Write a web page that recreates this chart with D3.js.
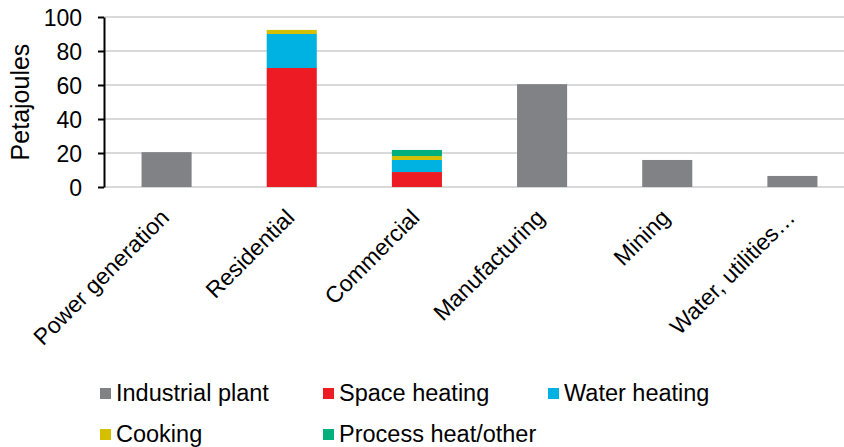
<!DOCTYPE html>
<html>
<head>
<meta charset="utf-8">
<script src="https://cdn.jsdelivr.net/npm/d3@7"></script>
<style>
	body { margin: 0; background: #fff; }
	svg { display: block; font-family: 'Liberation Sans', Arial, sans-serif; }
</style>
</head>
<body>
<div id="chart"></div>
<script>

// chart data
var categories = ['Power generation', 'Residential', 'Commercial', 'Manufacturing', 'Mining', 'Water, utilities\u2026']
	, industrialPlant = [20.5, 0, 0, 60.5, 15.9, 6.5]
	, spaceHeating = [0, 70, 8.8, 0, 0, 0]
	, waterHeating = [0, 20, 7.1, 0, 0, 0]
	, cooking = [0, 2.4, 2.3, 0, 0, 0]
	, processHeat = [0, 0, 3.6, 0, 0, 0]
	, seriesNames = ['Industrial plant', 'Space heating', 'Water heating', 'Cooking', 'Process heat/other']
	, yTicks = [0, 20, 40, 60, 80, 100]

var colors = ['#818285', '#ed1c24', '#00b2e2', '#d4c000', '#00b07c']

var width = 844
	, height = 447
	, margin = {top: 17, left: 104, bottom: 260, right: -11}

var svg = d3.select('#chart').append('svg')
	.attr('width', width)
	.attr('height', height)

// build one row per category for the stack
var rows = categories.map(function(c, i) {
	return {
		name: c
		, 'Industrial plant': industrialPlant[i]
		, 'Space heating': spaceHeating[i]
		, 'Water heating': waterHeating[i]
		, 'Cooking': cooking[i]
		, 'Process heat/other': processHeat[i]
	}
})

var stacked = d3.stack().keys(seriesNames)(rows)

var x = d3.scaleBand()
	.domain(categories)
	.range([margin.left, width - margin.right])
	.paddingInner(0.6)
	.paddingOuter(0.3)

var y = d3.scaleLinear()
	.domain([0, 100])
	.range([height - margin.bottom, margin.top])

// gridlines
svg.append('g').selectAll('line').data(yTicks)
  .enter()
	.append('line')
	.attr('x1', margin.left)
	.attr('x2', width - margin.right)
	.attr('y1', function(d) { return y(d) })
	.attr('y2', function(d) { return y(d) })
	.style('stroke', '#d9d9d9')
	.style('stroke-width', 2)

// bars
svg.append('g').selectAll('g').data(stacked)
  .enter()
	.append('g')
	.style('fill', function(d, i) { return colors[i] })
  .selectAll('rect').data(function(d) { return d })
  .enter()
	.append('rect')
	.attr('x', function(d) { return x(d.data.name) })
	.attr('width', x.bandwidth())
	.attr('y', function(d) { return y(d[1]) })
	.attr('height', function(d) { return y(d[0]) - y(d[1]) })

// y axis
var yAxis = svg.append('g')
	.attr('transform', 'translate(' + margin.left + ',0)')
	.call(d3.axisLeft(y).tickValues(yTicks).tickSize(6).tickSizeOuter(0).tickPadding(16))

yAxis.select('.domain').style('stroke', '#000').style('stroke-width', 2)
yAxis.selectAll('.tick line').style('stroke', '#000').style('stroke-width', 2)
yAxis.selectAll('.tick text')
	.style('font-size', '23px')
	.style('fill', '#000')
	.attr('dy', '0.36em')

svg.append('text')
	.attr('transform', 'translate(29,' + (y(50)) + ') rotate(-90)')
	.attr('text-anchor', 'middle')
	.style('font-size', '25px')
	.text('Petajoules')

// category labels
svg.append('g').selectAll('text').data(categories)
  .enter()
	.append('text')
	.attr('transform', function(d) {
		return 'translate(' + (x(d) + x.bandwidth() / 2 + 4) + ',' + 219 + ') rotate(-45)'
	})
	.attr('text-anchor', 'end')
	.style('font-size', '23px')
	.text(function(d) { return d })

// legend
var legendPos = [[100, 388], [323, 388], [548, 388], [100, 429], [323, 429]]

var legend = svg.append('g').selectAll('g').data(seriesNames)
  .enter()
	.append('g')
	.attr('transform', function(d, i) {
		return 'translate(' + legendPos[i][0] + ',' + legendPos[i][1] + ')'
	})

legend.append('rect')
	.attr('width', 11)
	.attr('height', 11)
	.style('fill', function(d, i) { return colors[i] })

legend.append('text')
	.attr('x', 16)
	.attr('y', 13)
	.style('font-size', '23.5px')
	.text(function(d) { return d })

</script>
</body>
</html>
